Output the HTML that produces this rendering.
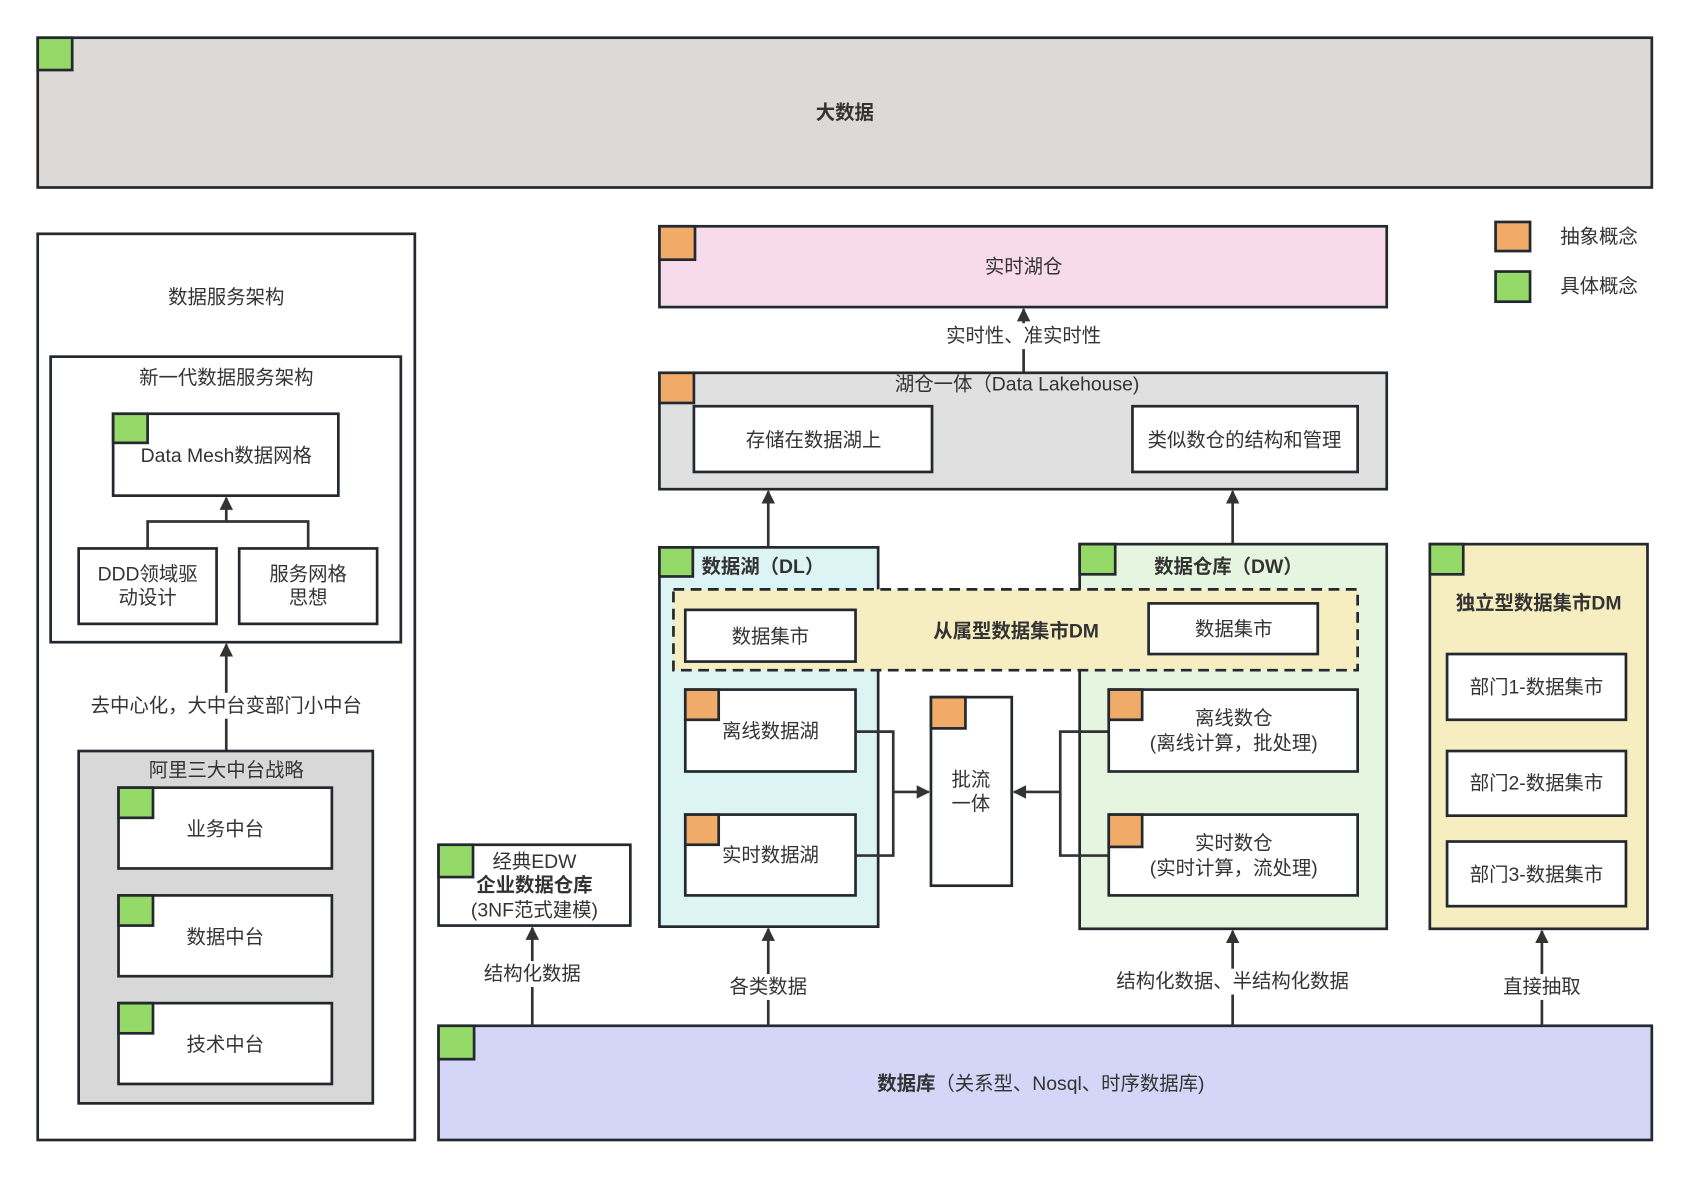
<!DOCTYPE html>
<html><head><meta charset="utf-8"><style>
html,body{margin:0;padding:0;background:#fff;}
svg{display:block;}
text{font-family:"Liberation Sans","Noto Sans CJK SC",sans-serif;fill:#333;font-size:18px;text-anchor:middle;dominant-baseline:central;}
.b{font-weight:bold;}
.bx{stroke:#23292f;stroke-width:2.5;}
</style></head><body>
<svg width="1689" height="1177" viewBox="0 0 1689 1177" xmlns="http://www.w3.org/2000/svg">
<defs><marker id="ar" viewBox="0 0 10 10" refX="9" refY="5" markerWidth="5" markerHeight="5" orient="auto-start-reverse"><path d="M0,0L10,5L0,10z" fill="#333"/></marker></defs>
<g transform="translate(0,0) scale(1.0775)">
<rect class="bx" x="35" y="35" width="1498" height="139" fill="#ddd9d6"/>
<rect class="bx" x="35" y="35" width="32" height="30" fill="#95da69"/>
<text class="b" x="784" y="105">大数据</text>
<rect class="bx" x="1388" y="206" width="32" height="27" fill="#f0ab69"/>
<rect class="bx" x="1388" y="252" width="32" height="28" fill="#95da69"/>
<text x="1484" y="220">抽象概念</text>
<text x="1484" y="266">具体概念</text>
<rect class="bx" x="35" y="217" width="350" height="841" fill="#fff"/>
<text x="210" y="276">数据服务架构</text>
<rect class="bx" x="47" y="331" width="325" height="265" fill="#fff"/>
<text x="210" y="351">新一代数据服务架构</text>
<rect class="bx" x="105" y="384" width="209" height="76" fill="#fff"/>
<rect class="bx" x="105" y="384" width="32" height="27" fill="#95da69"/>
<text x="210" y="423">Data Mesh数据网格</text>
<path d="M137,509V484H286V509" fill="none" stroke="#333" stroke-width="2.5"/>
<line x1="210" y1="484" x2="210" y2="462" stroke="#333" stroke-width="2.5" marker-end="url(#ar)"/>
<rect class="bx" x="73" y="509" width="128" height="70" fill="#fff"/>
<text x="137" y="533">DDD领域驱</text><text x="137" y="555">动设计</text>
<rect class="bx" x="222" y="509" width="128" height="70" fill="#fff"/>
<text x="286" y="533">服务网格</text><text x="286" y="555">思想</text>
<line x1="210" y1="697" x2="210" y2="598" stroke="#333" stroke-width="2.5" marker-end="url(#ar)"/>
<rect x="80" y="643" width="260" height="24" fill="#fff"/>
<text x="210" y="655">去中心化，大中台变部门小中台</text>
<rect class="bx" x="73" y="697" width="273" height="327" fill="#d8d8d8"/>
<text x="210" y="715">阿里三大中台战略</text>
<rect class="bx" x="110" y="731" width="198" height="75" fill="#fff"/><rect class="bx" x="110" y="731" width="32" height="28" fill="#95da69"/><text x="209" y="770">业务中台</text>
<rect class="bx" x="110" y="831" width="198" height="75" fill="#fff"/><rect class="bx" x="110" y="831" width="32" height="28" fill="#95da69"/><text x="209" y="870">数据中台</text>
<rect class="bx" x="110" y="931" width="198" height="75" fill="#fff"/><rect class="bx" x="110" y="931" width="32" height="28" fill="#95da69"/><text x="209" y="970">技术中台</text>
<rect class="bx" x="612" y="210" width="675" height="75" fill="#f8dbea"/>
<rect class="bx" x="612" y="210" width="33" height="31" fill="#f0ab69"/>
<text x="950" y="248">实时湖仓</text>
<line x1="950" y1="346" x2="950" y2="287" stroke="#333" stroke-width="2.5" marker-end="url(#ar)"/>
<rect x="870" y="300" width="160" height="24" fill="#fff"/>
<text x="950" y="312">实时性、准实时性</text>
<rect class="bx" x="612" y="346" width="675" height="108" fill="#e0e0e0"/>
<rect class="bx" x="612" y="346" width="32" height="28" fill="#f0ab69"/>
<text x="944" y="357">湖仓一体（Data Lakehouse)</text>
<rect class="bx" x="644" y="377" width="221" height="61" fill="#fff"/><text x="755" y="409">存储在数据湖上</text>
<rect class="bx" x="1051" y="377" width="209" height="61" fill="#fff"/><text x="1155" y="409">类似数仓的结构和管理</text>
<line x1="713" y1="508" x2="713" y2="456" stroke="#333" stroke-width="2.5" marker-end="url(#ar)"/>
<line x1="1144" y1="505" x2="1144" y2="456" stroke="#333" stroke-width="2.5" marker-end="url(#ar)"/>
<rect class="bx" x="612" y="508" width="203" height="352" fill="#dcf4f4"/>
<rect class="bx" x="612" y="508" width="31" height="27" fill="#95da69"/>
<text class="b" x="708" y="526">数据湖（DL）</text>
<rect class="bx" x="1002" y="505" width="285" height="357" fill="#e6f5df"/>
<rect class="bx" x="1002" y="505" width="33" height="28" fill="#95da69"/>
<text class="b" x="1140" y="526">数据仓库（DW）</text>
<rect x="625" y="547" width="635" height="75" fill="#f6edc0" stroke="#23292f" stroke-width="2.5" stroke-dasharray="10,6"/>
<text class="b" x="943" y="586">从属型数据集市DM</text>
<rect class="bx" x="636" y="566" width="158" height="48" fill="#fff"/><text x="715" y="591">数据集市</text>
<rect class="bx" x="1066" y="560" width="157" height="47" fill="#fff"/><text x="1145" y="584">数据集市</text>
<rect class="bx" x="636" y="640" width="158" height="76" fill="#fff"/><rect class="bx" x="636" y="640" width="31" height="28" fill="#f0ab69"/><text x="715" y="679">离线数据湖</text>
<rect class="bx" x="636" y="756" width="158" height="75" fill="#fff"/><rect class="bx" x="636" y="756" width="31" height="28" fill="#f0ab69"/><text x="715" y="794">实时数据湖</text>
<rect class="bx" x="864" y="647" width="75" height="175" fill="#fff"/><rect class="bx" x="864" y="647" width="32" height="29" fill="#f0ab69"/>
<text x="901" y="724">批流</text><text x="901" y="746">一体</text>
<path d="M794,679H829V794H794" fill="none" stroke="#333" stroke-width="2.5"/>
<line x1="829" y1="735" x2="862" y2="735" stroke="#333" stroke-width="2.5" marker-end="url(#ar)"/>
<path d="M1029,679H984V794H1029" fill="none" stroke="#333" stroke-width="2.5"/>
<line x1="984" y1="735" x2="941" y2="735" stroke="#333" stroke-width="2.5" marker-end="url(#ar)"/>
<rect class="bx" x="1029" y="640" width="231" height="76" fill="#fff"/><rect class="bx" x="1029" y="640" width="31" height="28" fill="#f0ab69"/>
<text x="1145" y="667">离线数仓</text><text x="1145" y="690">(离线计算，批处理)</text>
<rect class="bx" x="1029" y="756" width="231" height="75" fill="#fff"/><rect class="bx" x="1029" y="756" width="31" height="30" fill="#f0ab69"/>
<text x="1145" y="783">实时数仓</text><text x="1145" y="806">(实时计算，流处理)</text>
<rect class="bx" x="1327" y="505" width="202" height="357" fill="#f6edc0"/>
<rect class="bx" x="1327" y="505" width="31" height="28" fill="#95da69"/>
<text class="b" x="1428" y="560">独立型数据集市DM</text>
<rect class="bx" x="1343" y="607" width="166" height="61" fill="#fff"/><text x="1426" y="638">部门1-数据集市</text>
<rect class="bx" x="1343" y="697" width="166" height="60" fill="#fff"/><text x="1426" y="727">部门2-数据集市</text>
<rect class="bx" x="1343" y="781" width="166" height="60" fill="#fff"/><text x="1426" y="812">部门3-数据集市</text>
<rect class="bx" x="407" y="784" width="178" height="75" fill="#fff"/><rect class="bx" x="407" y="784" width="32" height="30" fill="#95da69"/>
<text x="496" y="800">经典EDW</text><text class="b" x="496" y="822">企业数据仓库</text><text x="496" y="845">(3NF范式建模)</text>
<rect class="bx" x="407" y="952" width="1126" height="106" fill="#d3d6f6"/>
<rect class="bx" x="407" y="952" width="33" height="31" fill="#95da69"/>
<text x="966" y="1006"><tspan style="font-weight:bold">数据库</tspan>（关系型、Nosql、时序数据库)</text>
<line x1="494" y1="952" x2="494" y2="861" stroke="#333" stroke-width="2.5" marker-end="url(#ar)"/>
<line x1="713" y1="952" x2="713" y2="862" stroke="#333" stroke-width="2.5" marker-end="url(#ar)"/>
<line x1="1144" y1="952" x2="1144" y2="864" stroke="#333" stroke-width="2.5" marker-end="url(#ar)"/>
<line x1="1431" y1="952" x2="1431" y2="864" stroke="#333" stroke-width="2.5" marker-end="url(#ar)"/>
<rect x="444" y="892" width="100" height="24" fill="#fff"/><text x="494" y="904">结构化数据</text>
<rect x="673" y="904" width="80" height="24" fill="#fff"/><text x="713" y="916">各类数据</text>
<rect x="1030" y="899" width="228" height="24" fill="#fff"/><text x="1144" y="911">结构化数据、半结构化数据</text>
<rect x="1391" y="904" width="80" height="24" fill="#fff"/><text x="1431" y="916">直接抽取</text>
</g>
</svg>
</body></html>
